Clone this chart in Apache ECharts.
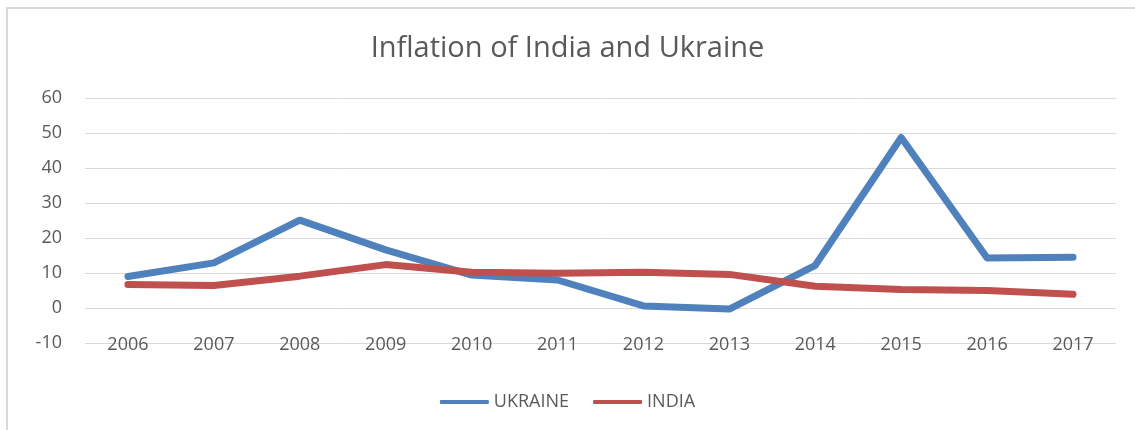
<!DOCTYPE html>
<html>
<head>
<meta charset="utf-8">
<script src="https://cdn.jsdelivr.net/npm/echarts@6/dist/echarts.min.js"></script>
<style>
  html, body { margin: 0; padding: 0; background: #fff; }
  #frame {
    position: absolute; left: 6px; top: 7px; width: 1129px; height: 423px;
    border-top: 2px solid #d9d9d9; border-left: 2px solid #d9d9d9;
  }
  #main { position: absolute; left: 0; top: 0; width: 1135px; height: 430px; }
</style>
</head>
<body>
<div id="frame"></div>
<div id="main"></div>
<script>
// years on the category axis
const years = ["2006", "2007", "2008", "2009", "2010", "2011", "2012", "2013", "2014", "2015", "2016", "2017"];
// inflation, %
const ukraine = [9.0, 12.9, 25.1, 16.6, 9.4, 8.0, 0.6, -0.3, 12.2, 48.7, 14.3, 14.5];
const india = [6.7, 6.4, 9.1, 12.4, 10.2, 9.9, 10.2, 9.6, 6.2, 5.3, 5.0, 3.9];
const seriesNames = ["UKRAINE", "INDIA"];

const font = "'Open Sans', 'Liberation Sans', sans-serif";
const chart = echarts.init(document.getElementById("main"));

chart.setOption({
  animation: false,
  title: {
    text: "Inflation of India and Ukraine",
    left: "center",
    top: 29,
    textStyle: { fontFamily: font, fontSize: 29, fontWeight: "normal", color: "#595959" }
  },
  legend: {
    bottom: 14,
    left: "center",
    itemWidth: 49,
    itemHeight: 4,
    itemGap: 24,
    icon: "roundRect",
    textStyle: { fontFamily: font, fontSize: 18, color: "#595959" },
    data: seriesNames
  },
  grid: { left: 85, right: 19, top: 98, bottom: 87 },
  xAxis: {
    type: "category",
    data: years,
    boundaryGap: true,
    axisLine: { show: false },
    axisTick: { show: false },
    axisLabel: { margin: -7, fontFamily: font, fontSize: 18, color: "#595959" }
  },
  yAxis: {
    type: "value",
    min: -10,
    max: 60,
    interval: 10,
    axisLine: { show: false },
    axisTick: { show: false },
    axisLabel: { margin: 23, fontFamily: font, fontSize: 18, color: "#595959" },
    splitLine: { lineStyle: { color: "#d9d9d9", width: 1 } }
  },
  series: [
    {
      name: seriesNames[0],
      type: "line",
      data: ukraine,
      symbol: "none",
      lineStyle: { width: 7, color: "#4f81bd", cap: "round", join: "round" },
      itemStyle: { color: "#4f81bd" }
    },
    {
      name: seriesNames[1],
      type: "line",
      data: india,
      symbol: "none",
      lineStyle: { width: 7, color: "#c0504d", cap: "round", join: "round" },
      itemStyle: { color: "#c0504d" }
    }
  ]
});
</script>
</body>
</html>
